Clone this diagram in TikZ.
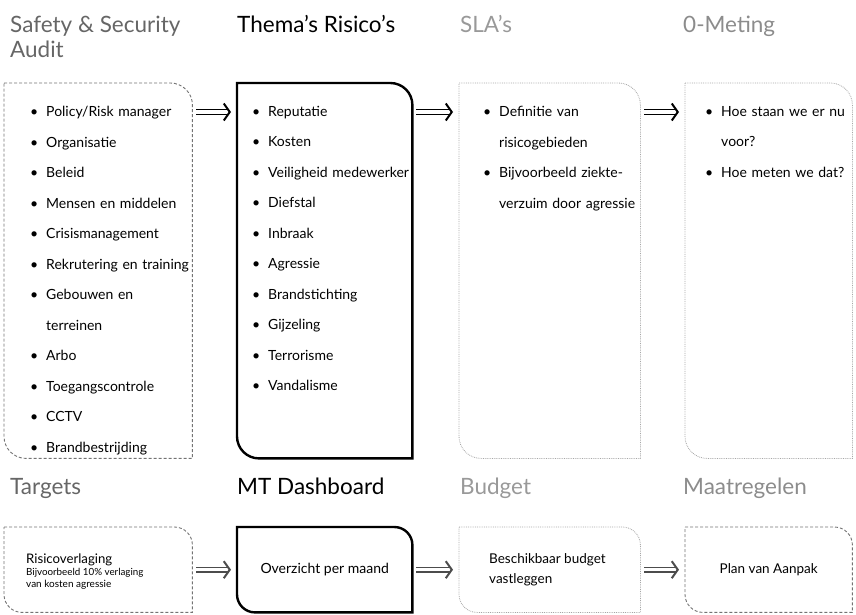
\documentclass[tikz,border=0pt]{standalone}
\usepackage{fontspec}
\setmainfont{Lato}
\usetikzlibrary{arrows.meta,positioning}

\newcommand{\bul}{\makebox[16pt][l]{\textbullet}}
\newcommand{\cont}{\hspace*{16pt}}

\tikzset{
  cell/.style={anchor=north west,inner sep=0pt},
  pale/.style={densely dashed,black!55,line width=0.9pt},
  heavy/.style={black,line width=2.4pt},
  faint/.style={densely dotted,black!35,line width=0.8pt},
  title/.style={anchor=base west,inner sep=0pt,align=left,font=\fontsize{22.5}{25}\selectfont},
  list/.style={anchor=north west,inner sep=0pt,align=left,font=\fontsize{14}{30.5}\selectfont},
  pipe/.style={double=white,double distance=3.4pt,line width=1.4pt,
    -{Straight Barb[length=6pt,width=17pt,line width=2pt]},shorten <=4pt,shorten >=6pt},
}

\begin{document}
\begin{tikzpicture}[x=1pt,y=-1pt]
\useasboundingbox (0,0) rectangle (856,614);

%% frames of the eight steps
\node[cell,minimum width=188pt,minimum height=375pt] (audit)   at (4,83)    {};
\node[cell,minimum width=175pt,minimum height=375pt] (risico)  at (237,83)  {};
\node[cell,minimum width=181pt,minimum height=375pt] (sla)     at (459,83)  {};
\node[cell,minimum width=167pt,minimum height=375pt] (meting)  at (685,83)  {};
\node[cell,minimum width=188pt,minimum height=85pt]  (targets) at (4,527)   {};
\node[cell,minimum width=175pt,minimum height=85pt]  (dash)    at (237,527) {};
\node[cell,minimum width=181pt,minimum height=85pt]  (budget)  at (459,527) {};
\node[cell,minimum width=167pt,minimum height=85pt]  (plan)    at (685,527) {};

\foreach \n/\s/\r in {audit/pale/22,risico/heavy/22,sla/faint/22,meting/faint/22,
                      targets/pale/18,dash/heavy/18,budget/faint/18,plan/pale/18}
  \draw[\s] (\n.north west) -- ([xshift=-\r pt]\n.north east)
            arc[start angle=90,end angle=0,radius=\r pt] -- (\n.south east)
            -- ([xshift=\r pt]\n.south west)
            arc[start angle=270,end angle=180,radius=\r pt] -- cycle;

%% titles
\node[title,text=black!60] (audittitle)   at (10,57)  {Safety \& Security\\Audit};
\node[title]               (risicotitle)  at (237,32) {Thema's Risico's};
\node[title,text=black!40] (slatitle)     at (460,32) {SLA's};
\node[title,text=black!45] (metingtitle)  at (683,32) {0-Meting};
\node[title,text=black!60] (targetstitle) at (10,494) {Targets};
\node[title]               (dashtitle)    at (237,494){MT Dashboard};
\node[title,text=black!40] (budgettitle)  at (460,494){Budget};
\node[title,text=black!45] (plantitle)    at (683,494){Maatregelen};

%% contents
\node[list,text width=180pt] (auditlist) at ([xshift=26pt,yshift=-23pt]audit.north west)
  {\bul Policy/Risk manager\\ \bul Organisatie\\ \bul Beleid\\ \bul Mensen en middelen\\
   \bul Crisismanagement\\ \bul Rekrutering en training\\ \bul Gebouwen en\\ \cont terreinen\\
   \bul Arbo\\ \bul Toegangscontrole\\ \bul CCTV\\ \bul Brandbestrijding};
\node[list,text width=170pt] (risicolist) at ([xshift=15pt,yshift=-23pt]risico.north west)
  {\bul Reputatie\\ \bul Kosten\\ \bul Veiligheid medewerker\\ \bul Diefstal\\ \bul Inbraak\\
   \bul Agressie\\ \bul Brandstichting\\ \bul Gijzeling\\ \bul Terrorisme\\ \bul Vandalisme};
\node[list,text width=170pt] (slalist) at ([xshift=24pt,yshift=-23pt]sla.north west)
  {\bul Definitie van\\ \cont risicogebieden\\ \bul Bijvoorbeeld ziekte-\\ \cont verzuim door agressie};
\node[list,text width=160pt] (metinglist) at ([xshift=20pt,yshift=-23pt]meting.north west)
  {\bul Hoe staan we er nu\\ \cont voor?\\ \bul Hoe meten we dat?};

\node[anchor=west,inner sep=0pt,align=left] (targetstext) at ([xshift=22pt,yshift=-2pt]targets.west)
  {\fontsize{13.2}{15}\selectfont Risicoverlaging\\[0pt]
   \fontsize{9.8}{14.5}\selectfont Bijvoorbeeld 10\% verlaging\\ van kosten agressie};
\node[inner sep=0pt,font=\fontsize{14}{16}\selectfont] (dashtext) at (dash.center) {Overzicht per maand};
\node[anchor=west,inner sep=0pt,align=left,font=\fontsize{13.5}{20}\selectfont] (budgettext)
  at ([xshift=30pt]budget.west) {Beschikbaar budget\\vastleggen};
\node[inner sep=0pt,font=\fontsize{13.5}{16}\selectfont] (plantext) at (plan.center) {Plan van Aanpak};

%% arrows between the steps
\draw[pipe] ([yshift=-29pt]audit.north east) -- ([yshift=-29pt]risico.north west);
\draw[pipe] ([yshift=-29pt]risico.north east) -- ([yshift=-29pt]sla.north west);
\draw[pipe] ([yshift=-29pt]sla.north east) -- ([yshift=-29pt]meting.north west);
\draw[pipe,black!70] (targets.east) -- (dash.west);
\draw[pipe,black!70] (dash.east) -- (budget.west);
\draw[pipe,black!70] (budget.east) -- (plan.west);

\end{tikzpicture}
\end{document}
